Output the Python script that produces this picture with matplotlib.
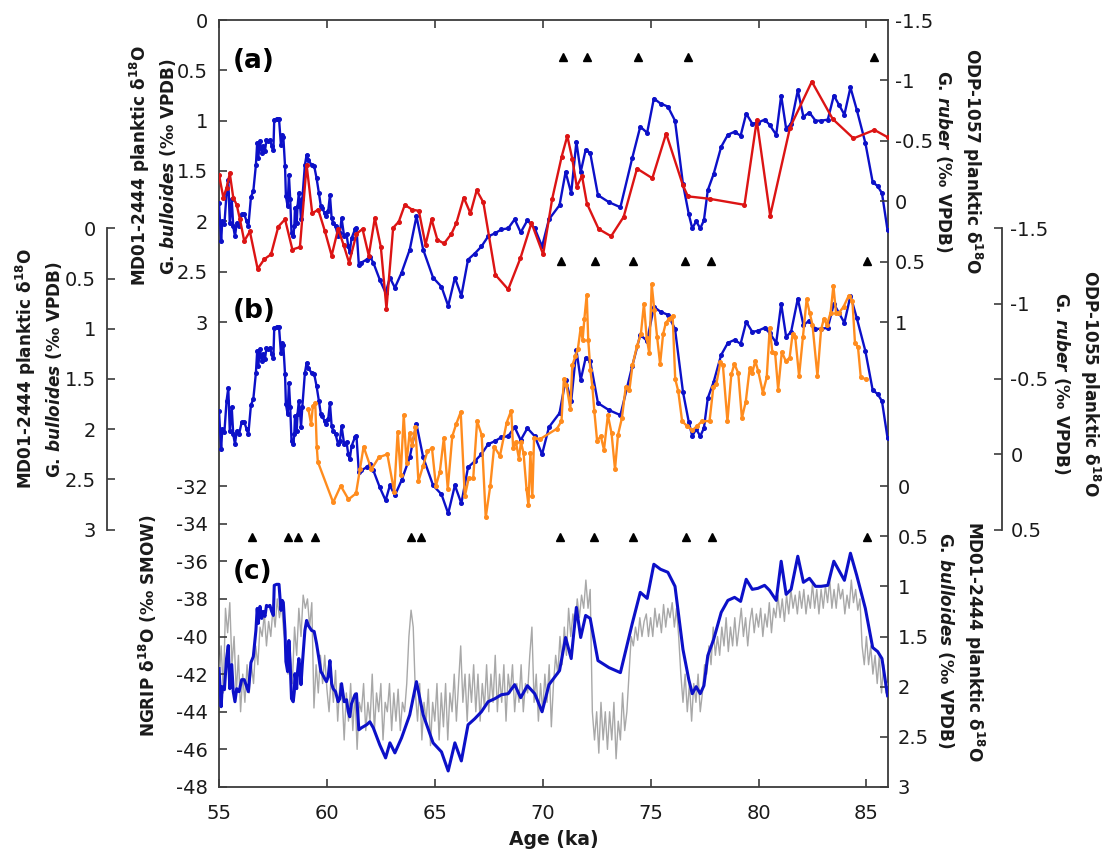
import numpy as np
import matplotlib
matplotlib.use('Agg')
import matplotlib.pyplot as plt
from matplotlib.ticker import FixedLocator, FuncFormatter

plt.rcParams['font.family'] = ['DejaVu Sans']
plt.rcParams['axes.unicode_minus'] = False
plt.rcParams['mathtext.fontset'] = 'custom'
plt.rcParams['mathtext.rm'] = 'DejaVu Sans:bold'
plt.rcParams['mathtext.it'] = 'DejaVu Sans:italic:bold'
plt.rcParams['mathtext.bf'] = 'DejaVu Sans:bold'

# ---- MD01-2444 G. bulloides d18O (permil VPDB) ----
md_age = [55.0, 55.1, 55.15, 55.25, 55.35, 55.43, 55.5, 55.59, 55.66, 55.74, 55.82, 55.93,
          56.05, 56.17, 56.28, 56.36, 56.48, 56.59, 56.71, 56.77, 56.82, 56.9, 56.98, 57.05,
          57.13, 57.2, 57.28, 57.36, 57.44, 57.52, 57.56, 57.67, 57.78, 57.87, 57.93, 57.98,
          58.06, 58.1, 58.18, 58.24, 58.3, 58.36, 58.44, 58.49, 58.52, 58.6, 58.64, 58.7,
          58.75, 58.8, 58.86, 58.98, 59.06, 59.14, 59.29, 59.41, 59.52, 59.63, 59.72, 59.78,
          59.9, 59.98, 60.06, 60.14, 60.22, 60.29, 60.4, 60.52, 60.6, 60.68, 60.8, 60.91,
          60.99, 61.06, 61.14, 61.3, 61.37, 61.48, 61.6, 61.84, 61.99, 62.15, 62.45, 62.72,
          62.92, 63.15, 63.46, 63.84, 64.15, 64.46, 64.92, 65.31, 65.62, 65.93, 66.23, 66.54,
          66.85, 67.16, 67.47, 67.78, 68.09, 68.4, 68.7, 68.98, 69.29, 69.63, 69.97, 70.29,
          70.78, 71.06, 71.32, 71.56, 71.76, 71.99, 72.2, 72.56, 73.07, 73.6, 74.15, 74.52,
          74.84, 75.15, 75.46, 75.8, 76.13, 76.5, 76.77, 76.93, 77.11, 77.3, 77.47, 77.65,
          77.92, 78.27, 78.58, 78.89, 79.17, 79.43, 79.71, 79.97, 80.28, 80.51, 80.82, 81.05,
          81.28, 81.51, 81.82, 82.08, 82.36, 82.64, 82.9, 83.21, 83.49, 83.72, 83.98, 84.26,
          84.55, 84.95, 85.29, 85.52, 85.72, 85.98]
md_d18o = [1.82, 2.20, 2.0, 2.03, 1.72, 1.59, 2.02, 1.78, 2.05, 2.15, 2.02, 2.05,
           1.93, 1.93, 2.0, 2.05, 1.76, 1.70, 1.44, 1.22, 1.37, 1.20, 1.32, 1.25,
           1.30, 1.19, 1.20, 1.19, 1.25, 1.29, 0.99, 0.98, 0.98, 1.24, 1.14, 1.16,
           1.45, 1.75, 1.85, 1.54, 1.78, 2.12, 2.15, 2.05, 1.87, 2.02, 1.85, 1.72,
           1.82, 1.98, 1.78, 1.44, 1.34, 1.39, 1.44, 1.45, 1.57, 1.72, 1.85, 1.87,
           1.92, 1.95, 1.90, 1.74, 1.97, 2.02, 2.05, 2.15, 2.12, 1.97, 2.15, 2.13,
           2.25, 2.30, 2.17, 2.08, 2.07, 2.43, 2.41, 2.38, 2.35, 2.41, 2.58, 2.71,
           2.56, 2.66, 2.51, 2.28, 1.95, 2.28, 2.56, 2.65, 2.84, 2.56, 2.74, 2.38,
           2.32, 2.25, 2.15, 2.12, 2.08, 2.07, 1.98, 2.11, 1.99, 2.07, 2.25, 1.98,
           1.84, 1.51, 1.72, 1.21, 1.51, 1.29, 1.32, 1.74, 1.81, 1.86, 1.37, 1.06,
           1.12, 0.78, 0.83, 0.86, 1.0, 1.63, 1.93, 2.07, 2.0, 2.07, 1.99, 1.69,
           1.53, 1.26, 1.14, 1.11, 1.15, 0.93, 1.03, 1.02, 0.99, 1.04, 1.14, 0.75,
           1.08, 1.03, 0.70, 0.96, 0.92, 1.0, 1.0, 0.99, 0.75, 0.84, 0.94, 0.67,
           0.89, 1.22, 1.61, 1.65, 1.72, 2.09]

# ---- ODP-1057 G. ruber d18O ----
odp57_age = [55.0, 55.2, 55.35, 55.5, 55.66, 55.82, 55.97, 56.17, 56.43, 56.79, 57.1, 57.41,
             57.75, 58.06, 58.4, 58.75, 59.06, 59.32, 59.6, 59.91, 60.22, 60.52, 60.77, 61.03,
             61.37, 61.65, 61.94, 62.22, 62.5, 62.76, 63.07, 63.33, 63.61, 63.95, 64.26, 64.57,
             64.85, 65.12, 65.43, 65.77, 66.0, 66.34, 66.65, 66.94, 67.25, 67.81, 68.4, 68.97,
             69.48, 70.02, 70.44, 70.88, 71.14, 71.37, 71.58, 71.82, 72.05, 72.59, 73.17, 73.75,
             74.37, 75.08, 75.72, 76.5, 76.73, 77.73, 79.35, 79.92, 80.54, 81.46, 82.47, 83.44,
             84.4, 85.37, 85.98]
odp57_d18o = [-0.22, -0.03, -0.11, -0.23, -0.03, 0.03, 0.15, 0.33, 0.25, 0.56, 0.48, 0.44,
              0.21, 0.15, 0.40, 0.38, -0.30, 0.10, 0.07, 0.25, 0.45, 0.23, 0.36, 0.51,
              0.27, 0.23, 0.45, 0.14, 0.38, 0.89, 0.22, 0.17, 0.03, 0.07, 0.08, 0.36,
              0.15, 0.32, 0.35, 0.27, 0.18, -0.03, 0.10, -0.09, 0.01, 0.61, 0.73, 0.47,
              0.18, 0.44, -0.02, -0.37, -0.54, -0.35, -0.12, -0.21, 0.02, 0.23, 0.29, 0.13,
              -0.27, -0.19, -0.56, -0.13, -0.04, -0.02, 0.03, -0.67, 0.12, -0.61, -0.99, -0.68,
              -0.52, -0.59, -0.53]

# ---- ODP-1055 G. ruber d18O ----
odp55_age = [59.14, 59.27, 59.35, 59.46, 59.53, 59.58, 60.29, 60.64, 61.0, 61.35, 61.53, 61.7,
             62.06, 62.41, 62.8, 63.12, 63.28, 63.42, 63.56, 63.69, 63.83, 63.95, 64.1, 64.24,
             64.45, 64.66, 64.87, 65.05, 65.23, 65.42, 65.6, 65.81, 65.99, 66.2, 66.39, 66.57,
             66.78, 66.96, 67.17, 67.36, 67.57, 67.75, 68.02, 68.33, 68.54, 68.63, 68.76, 68.9,
             68.99, 69.11, 69.25, 69.34, 69.43, 69.52, 69.6, 69.87, 70.66, 70.87, 70.98, 71.1,
             71.28, 71.37, 71.51, 71.63, 71.76, 71.85, 71.93, 72.04, 72.11, 72.21, 72.3, 72.39,
             72.52, 72.69, 72.84, 73.02, 73.19, 73.35, 73.49, 73.67, 73.85, 74.02, 74.16, 74.37,
             74.55, 74.69, 74.82, 74.94, 75.05, 75.17, 75.3, 75.44, 75.58, 75.7, 75.84, 76.02,
             76.14, 76.28, 76.46, 76.67, 76.94, 77.17, 77.38, 77.73, 77.91, 78.05, 78.23, 78.35,
             78.56, 78.74, 78.88, 79.06, 79.23, 79.41, 79.59, 79.71, 79.85, 79.99, 80.2, 80.38,
             80.52, 80.64, 80.77, 80.91, 81.08, 81.26, 81.44, 81.58, 81.7, 81.88, 82.06, 82.23,
             82.37, 82.5, 82.73, 82.9, 83.03, 83.17, 83.34, 83.47, 83.59, 83.73, 83.94, 84.17,
             84.35, 84.47, 84.61, 84.74, 84.97]
odp55_d18o = [-0.30, -0.20, -0.32, -0.34, -0.05, 0.05, 0.32, 0.21, 0.30, 0.26, 0.10, -0.05,
              0.10, 0.02, 0.0, 0.25, -0.15, 0.14, -0.26, 0.06, -0.14, -0.06, -0.18, 0.18,
              0.08, -0.02, -0.04, 0.21, 0.12, -0.11, 0.23, -0.12, -0.20, -0.28, 0.28, 0.16,
              0.16, -0.22, -0.13, 0.42, 0.21, -0.05, 0.01, -0.21, -0.29, -0.04, -0.08, 0.03,
              -0.08, -0.01, 0.23, 0.34, -0.01, 0.28, -0.11, -0.10, -0.17, -0.22, -0.50, -0.46,
              -0.30, -0.59, -0.65, -0.70, -0.84, -0.76, -0.90, -1.06, -0.76, -0.56, -0.45, -0.29,
              -0.09, -0.12, -0.03, -0.26, -0.14, 0.10, -0.13, -0.24, -0.45, -0.43, -0.59, -0.72,
              -0.80, -1.0, -0.77, -0.67, -1.13, -0.96, -0.78, -0.60, -0.80, -0.87, -0.90, -0.92,
              -0.50, -0.42, -0.22, -0.19, -0.16, -0.19, -0.22, -0.22, -0.45, -0.47, -0.61, -0.59,
              -0.22, -0.53, -0.60, -0.54, -0.24, -0.35, -0.57, -0.54, -0.62, -0.55, -0.41, -0.51,
              -0.84, -0.68, -0.67, -0.43, -0.68, -0.62, -0.64, -0.80, -0.78, -0.52, -0.78, -1.03,
              -0.94, -0.86, -0.52, -0.83, -0.90, -0.86, -0.94, -1.12, -0.94, -0.94, -0.98, -1.05,
              -1.02, -0.74, -0.71, -0.51, -0.50]

# ---- NGRIP d18O (permil SMOW), 0.1 ka steps from 55.0 ka ----
ngrip_d18o = [
    -42.5, -40.5, -43.0, -38.5, -39.8, -38.2, -41.5, -40.0, -43.0, -41.0,
    -44.0, -42.0, -43.5, -41.5, -43.0, -41.5, -42.5, -40.5, -41.5, -39.5,
    -40.0, -38.8, -40.5, -39.2, -40.0, -38.5, -39.5, -38.0, -39.0, -38.3,
    -39.8, -40.5, -42.0, -41.0, -42.5, -39.5, -41.0, -38.5, -40.0, -37.8,
    -38.5, -38.0, -39.5, -38.2, -43.8, -41.5, -43.0, -41.0, -42.5, -41.0,
    -42.8, -44.0, -42.0, -43.5, -41.8, -44.5, -42.5, -43.0, -45.5, -43.0,
    -44.5, -42.5, -45.0, -43.0, -46.0, -43.5, -44.0, -42.5, -45.0, -43.5,
    -44.5, -42.0, -45.0, -43.0, -44.0, -42.5, -45.5, -43.5, -44.0, -42.5,
    -45.0, -43.0, -44.5, -42.8, -45.0, -43.5, -44.0, -42.5, -40.0, -38.6,
    -39.5, -43.0, -44.5, -42.5, -45.5, -43.5, -44.5, -42.8, -45.8, -43.5,
    -44.5, -42.5, -45.5, -43.0, -44.8, -42.5, -45.5, -43.0, -44.0, -42.0,
    -44.5, -42.5, -40.5, -43.5, -42.0, -44.5, -42.0, -43.5, -41.5, -44.0,
    -42.0, -44.5, -42.5, -43.8, -41.5, -44.0, -42.0, -43.5, -41.0, -44.0,
    -42.0, -43.5, -41.5, -44.5, -42.0, -43.0, -41.5, -44.0, -42.5, -43.5,
    -41.5, -44.0, -42.5, -43.0, -41.0, -39.5, -43.5, -42.0, -44.5, -42.5,
    -44.0, -42.0, -43.5, -41.5, -44.8, -42.5, -41.0, -42.0, -40.0, -41.5,
    -39.5, -41.0, -38.5, -40.0, -38.8, -39.5, -38.0, -39.0, -37.8, -38.5,
    -37.0, -38.5, -37.5, -44.0, -45.5, -44.0, -46.2, -43.5, -45.5, -44.0,
    -46.0, -44.0, -45.5, -43.5, -46.5, -44.5, -45.5, -43.0, -45.0, -44.0,
    -42.0, -40.0, -40.5, -39.5, -40.2, -39.0, -40.0, -39.2, -38.8, -40.0,
    -39.0, -40.0, -38.5, -39.5, -38.8, -39.8, -38.3, -39.5, -38.5, -39.0,
    -38.2, -39.5, -38.5, -40.0, -42.0, -43.5, -42.0, -44.0, -42.5, -44.5,
    -42.5, -43.5, -42.0, -44.0, -43.0, -41.5, -42.0, -40.5, -41.5, -39.5,
    -41.0, -40.0, -41.0, -39.5, -40.5, -39.0, -40.8, -39.5, -40.5, -39.0,
    -40.5, -39.5, -38.5, -40.0, -39.0, -40.5, -39.2, -38.5, -39.8, -38.8,
    -39.5, -38.5, -40.0, -38.8, -39.5, -38.2, -39.8, -38.5, -39.0, -37.8,
    -39.0, -38.0, -39.2, -37.8, -38.8, -37.5, -38.5, -37.8, -38.8, -37.6,
    -38.5, -37.5, -38.8, -37.8, -38.5, -37.2, -38.5, -37.5, -38.8, -37.5,
    -38.5, -37.3, -38.2, -37.0, -38.5, -37.5, -38.5, -37.2, -38.0, -37.5,
    -38.8, -37.8, -38.5, -37.0, -38.2, -37.5, -38.6, -38.0, -40.5, -41.5,
    -40.0, -41.5, -40.5, -42.0, -41.0, -42.5, -41.0, -43.0, -41.5, -43.0,
    -42.5]
ngrip_age = 55.0 + 0.1 * np.arange(len(ngrip_d18o))

# tie-point triangles (ka)
tri_a = [70.94, 72.05, 74.41, 76.72, 85.37]
tri_b = [70.87, 72.41, 74.18, 76.6, 77.81, 85.01]
tri_c = [56.54, 58.18, 58.68, 59.44, 63.88, 64.38, 70.8, 72.38, 74.18, 76.64, 77.84, 85.04]

BLUE = '#0c10c8'
RED = '#dc1414'
ORANGE = '#ff8c1e'
GREY = '#a8a8a8'
SPINE = '#3c3c3c'
TXT = '#1a1a1a'
W, H = 1105, 849
X0, X1 = 219, 888
TICK = 14
LAB = 12.2

fig = plt.figure(figsize=(W / 100, H / 100), dpi=100)

def fmt(v, pos):
    return '%g' % v

# outer frame with the age axis
axf = fig.add_axes([X0 / W, 1 - 787 / H, (X1 - X0) / W, (787 - 20) / H])
axf.set_xlim(55, 86)
axf.set_ylim(0, 1)
axf.set_yticks([])
axf.set_xticks([55, 60, 65, 70, 75, 80, 85])
axf.tick_params(axis='x', direction='in', top=True, length=6, width=1.2,
                labelsize=TICK, pad=12, colors=SPINE, labelcolor=TXT)
for s in axf.spines.values():
    s.set_linewidth(1.3)
    s.set_color(SPINE)
axf.set_xlabel('Age (ka)', fontsize=13.5, fontweight='bold', labelpad=5, color=TXT)


def panel(ytop, ybot):
    ax = fig.add_axes([X0 / W, 1 - ybot / H, (X1 - X0) / W, (ybot - ytop) / H])
    ax.patch.set_visible(False)
    for s in ax.spines.values():
        s.set_visible(False)
    ax.set_xlim(55, 86)
    ax.xaxis.set_visible(False)
    return ax


def style(ax, ticks, side, pad):
    ax.yaxis.set_major_locator(FixedLocator(ticks))
    ax.yaxis.set_major_formatter(FuncFormatter(fmt))
    ax.tick_params(axis='y', direction='in', length=5.5, width=1.2, labelsize=TICK,
                   pad=pad, colors=SPINE, labelcolor=TXT,
                   left=(side == 'left'), labelleft=(side == 'left'),
                   right=(side == 'right'), labelright=(side == 'right'))


# panel (a)
axa = panel(20, 322)
axa.set_ylim(3, 0)
style(axa, np.arange(0, 3.01, 0.5), 'left', 8)
axa.plot(md_age, md_d18o, color=BLUE, lw=1.7, marker='o', ms=2.6, zorder=3)
axa2 = axa.twinx()
axa2.patch.set_visible(False)
for s in axa2.spines.values():
    s.set_visible(False)
axa2.set_ylim(1, -1.5)
style(axa2, np.arange(-1.5, 1.01, 0.5), 'right', 5)
axa2.plot(odp57_age, odp57_d18o, color=RED, lw=1.7, marker='o', ms=2.6, zorder=2)

# panel (b)
axb = panel(228.5, 529.5)
axb.set_ylim(3, 0)
axb.spines['left'].set_visible(True)
axb.spines['left'].set_position(('axes', -(X0 - 107) / (X1 - X0)))
axb.spines['left'].set_color(SPINE)
axb.spines['left'].set_linewidth(1.3)
style(axb, np.arange(0, 3.01, 0.5), 'left', 8)
axb.plot(md_age, md_d18o, color=BLUE, lw=1.7, marker='o', ms=2.6, zorder=3)
axb2 = axb.twinx()
axb2.patch.set_visible(False)
for s in axb2.spines.values():
    s.set_visible(False)
axb2.spines['right'].set_visible(True)
axb2.spines['right'].set_position(('axes', 1 + (1002 - X1) / (X1 - X0)))
axb2.spines['right'].set_color(SPINE)
axb2.spines['right'].set_linewidth(1.3)
axb2.set_ylim(0.5, -1.5)
style(axb2, np.arange(-1.5, 0.51, 0.5), 'right', 6)
axb2.plot(odp55_age, odp55_d18o, color=ORANGE, lw=1.7, marker='o', ms=2.6, zorder=2)

# panel (c)
axc = panel(486, 787)
axc.set_ylim(-48, -32)
style(axc, np.arange(-48, -31.9, 2), 'left', 8)
axc.plot(ngrip_age, ngrip_d18o, color=GREY, lw=1.0, zorder=1)
axc2 = axc.twinx()
axc2.patch.set_visible(False)
for s in axc2.spines.values():
    s.set_visible(False)
axc2.set_ylim(3, 0)
style(axc2, np.arange(0, 3.01, 0.5), 'right', 7)
axc2.plot(md_age, md_d18o, color=BLUE, lw=2.2, zorder=3)

# tie-point triangles
trans = axf.get_xaxis_transform()
for ages, yf in [(tri_a, (787 - 57) / 767), (tri_b, (787 - 261) / 767), (tri_c, (787 - 537) / 767)]:
    axf.plot(ages, [yf] * len(ages), linestyle='none', marker='^', ms=5.5,
             color='black', transform=trans, clip_on=False, zorder=5)

# panel letters
for lab, yc in [('(a)', 61), ('(b)', 311), ('(c)', 572)]:
    fig.text(233 / W, 1 - yc / H, lab, fontsize=19, fontweight='bold',
             ha='left', va='center', color='black')

# axis titles
md_lab = 'MD01-2444 planktic δ$^{18}$O\nG. $\\mathit{bulloides}$ (‰ VPDB)'
labels = [
    (md_lab, 153, 166, 90),
    (md_lab, 39, 369, 90),
    ('NGRIP δ$^{18}$O (‰ SMOW)', 148, 626, 90),
    ('ODP-1057 planktic δ$^{18}$O\nG. $\\mathit{ruber}$ (‰ VPDB)', 959, 161, 270),
    ('ODP-1055 planktic δ$^{18}$O\nG. $\\mathit{ruber}$ (‰ VPDB)', 1077, 383, 270),
    (md_lab, 961, 641, 270),
]
for txt, xc, yc, rot in labels:
    fig.text(xc / W, 1 - yc / H, txt, rotation=rot, fontsize=LAB, fontweight='bold',
             ha='center', va='center', multialignment='center', linespacing=1.35,
             color=TXT)

fig.savefig('out.png', dpi=100)
